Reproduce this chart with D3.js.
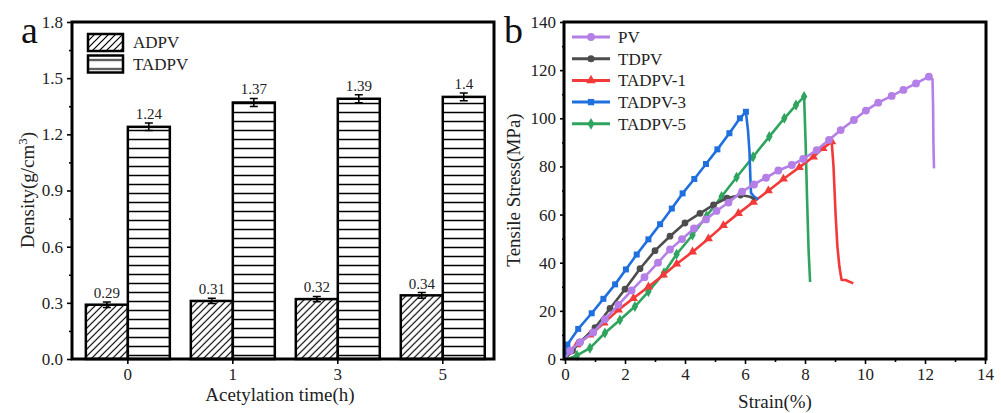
<!DOCTYPE html>
<html>
<head>
<meta charset="utf-8">
<script src="https://cdn.jsdelivr.net/npm/d3@7"></script>
<style>
  body { margin: 0; background: #fff; }
  svg { display: block; font-family: "Liberation Serif", "Times New Roman", serif; }
</style>
</head>
<body>
<div class="grafico"></div>
<script>
// Datos del panel a (densidad)
var categorias = ["0", "1", "3", "5"];
var densidadADPV = [0.29, 0.31, 0.32, 0.34];
var densidadTADPV = [1.24, 1.37, 1.39, 1.40];
var errorADPV = [0.015, 0.014, 0.014, 0.015];
var errorTADPV = [0.02, 0.022, 0.021, 0.021];
var etiquetasADPV = ["0.29", "0.31", "0.32", "0.34"];
var etiquetasTADPV = ["1.24", "1.37", "1.39", "1.4"];
var ticksDensidad = [0, 0.3, 0.6, 0.9, 1.2, 1.5, 1.8];

// Datos del panel b (esfuerzo-deformacion), [strain %, stress MPa]
var curvaPV = [[0, 0], [0.17, 3.5], [0.5, 7], [0.94, 11], [1.33, 16.5], [1.78, 22.5], [2.22, 28.5], [2.65, 34],
  [3.1, 40], [3.5, 45.5], [3.9, 49.8], [4.3, 54.2], [4.7, 58], [5.05, 61.5], [5.45, 65], [5.9, 69.5],
  [6.3, 72.5], [6.7, 75.3], [7.11, 78.3], [7.56, 80.6], [7.94, 83.1], [8.39, 86.8], [8.8, 91], [9.19, 95.1],
  [9.63, 99.3], [10.03, 103.2], [10.44, 106.5], [10.89, 109.3], [11.28, 111.8], [11.7, 114.5], [12.13, 117.3],
  [12.25, 116.3], [12.27, 105], [12.28, 90], [12.3, 79.2]];
var curvaTDPV = [[0, 0], [0.25, 3.5], [0.5, 7], [1, 13], [1.5, 21], [2, 29], [2.5, 37.5], [3, 45], [3.5, 51],
  [4, 56.5], [4.5, 60.5], [4.95, 64], [5.4, 66.8], [5.85, 68.1], [6.17, 67.4], [6.33, 66.3]];
var curvaTADPV1 = [[0, 0], [0.1, 3], [0.4, 6], [0.83, 10], [1.3, 15], [1.78, 20.4], [2.28, 25.2], [2.78, 30],
  [3.28, 34.9], [3.72, 39.5], [4.25, 44.5], [4.78, 50], [5.28, 55.5], [5.78, 60.5], [6.28, 65.2], [6.78, 69.9],
  [7.28, 74.8], [7.81, 79.6], [8.28, 84], [8.6, 87.5], [8.89, 90.3], [8.95, 80], [9.02, 60], [9.08, 46.7],
  [9.15, 38], [9.22, 32.8], [9.35, 32.8], [9.61, 31.4]];
var curvaTADPV3 = [[0, 0], [0.03, 3], [0.08, 6], [0.44, 12.5], [0.89, 19], [1.28, 25], [1.67, 31], [2.03, 37.2],
  [2.39, 43.4], [2.78, 49.7], [3.17, 56], [3.56, 62.5], [3.92, 68.8], [4.31, 74.8], [4.7, 81], [5.08, 87.1],
  [5.48, 93.8], [5.83, 100], [6.03, 102.7], [6.1, 95], [6.15, 86], [6.18, 75], [6.2, 69], [6.3, 67.5], [6.44, 66.3]];
var curvaTADPV5 = [[0.1, 0], [0.4, 1.5], [0.83, 4.5], [1.33, 10.8], [1.83, 16.2], [2.33, 21.8], [2.78, 28],
  [3.3, 35.8], [3.72, 43.5], [4.25, 51.5], [4.72, 59.4], [5.22, 67.5], [5.72, 75.5], [6.27, 84], [6.81, 92.4],
  [7.31, 100], [7.7, 105.5], [7.97, 109], [8.02, 90], [8.07, 66], [8.12, 45], [8.17, 32]];
var nombresCurvas = ["PV", "TDPV", "TADPV-1", "TADPV-3", "TADPV-5"];
var ticksStrain = [0, 2, 4, 6, 8, 10, 12, 14];
var ticksStress = [0, 20, 40, 60, 80, 100, 120, 140];

var curvas = [curvaPV, curvaTDPV, curvaTADPV1, curvaTADPV3, curvaTADPV5];
var colores = ["#b47fe6", "#4d4d4d", "#f23a3a", "#1f6fdf", "#2fa45e"];
var simbolos = [d3.symbolCircle, d3.symbolCircle, d3.symbolTriangle, d3.symbolSquare, d3.symbolDiamond];

var svg = d3.select(".grafico").append("svg")
    .attr("width", 1001)
    .attr("height", 413);

// Patrones de relleno (rayado)
var defs = svg.append("defs");
var diag = defs.append("pattern")
    .attr("id", "rayasDiag")
    .attr("patternUnits", "userSpaceOnUse")
    .attr("width", 7).attr("height", 7);
diag.append("rect").attr("width", 7).attr("height", 7).attr("fill", "white");
diag.append("path")
    .attr("d", "M-1,8L8,-1M-2,2L2,-2M5,9L9,5")
    .attr("stroke", "black").attr("stroke-width", 1.2);
var horiz = defs.append("pattern")
    .attr("id", "rayasHoriz")
    .attr("patternUnits", "userSpaceOnUse")
    .attr("width", 9).attr("height", 9);
horiz.append("rect").attr("width", 9).attr("height", 9).attr("fill", "white");
horiz.append("line")
    .attr("x1", 0).attr("x2", 9).attr("y1", 4.5).attr("y2", 4.5)
    .attr("stroke", "black").attr("stroke-width", 1.5);

// ---------- Panel a ----------
var ax0 = 72, ax1 = 494, ay0 = 359, ay1 = 22;
var xa = d3.scaleBand().domain(categorias).range([ax0, ax1])
    .paddingInner(0.2).paddingOuter(0.11).align(0.6);
var xaSub = d3.scaleBand().domain([0, 1]).range([0, xa.bandwidth()]);
var ya = d3.scaleLinear().domain([0, 1.8]).range([ay0, ay1]);

var grupos = svg.selectAll("g.grupo")
    .data(categorias)
    .enter().append("g")
    .attr("class", "grupo")
    .attr("transform", function(d) { return "translate(" + xa(d) + ",0)"; });

var series = [
  { valores: densidadADPV, errores: errorADPV, etiquetas: etiquetasADPV, relleno: "url(#rayasDiag)" },
  { valores: densidadTADPV, errores: errorTADPV, etiquetas: etiquetasTADPV, relleno: "url(#rayasHoriz)" }
];

series.forEach(function(s, k) {
    grupos.append("rect")
        .attr("x", xaSub(k))
        .attr("width", xaSub.bandwidth())
        .attr("y", function(d, i) { return ya(s.valores[i]); })
        .attr("height", function(d, i) { return ya(0) - ya(s.valores[i]); })
        .attr("fill", s.relleno)
        .attr("stroke", "black")
        .attr("stroke-width", 2.5);

    // Barras de error
    var cx = xaSub(k) + xaSub.bandwidth() / 2;
    grupos.append("path")
        .attr("d", function(d, i) {
            var t = ya(s.valores[i] + s.errores[i]), b = ya(s.valores[i] - s.errores[i]);
            return "M" + cx + "," + t + "V" + b +
                "M" + (cx - 4) + "," + t + "H" + (cx + 4) +
                "M" + (cx - 4) + "," + b + "H" + (cx + 4);
        })
        .attr("stroke", "black")
        .attr("stroke-width", 1.5)
        .attr("fill", "none");

    // Etiquetas de valor
    grupos.append("text")
        .attr("x", cx)
        .attr("y", function(d, i) { return ya(s.valores[i] + s.errores[i]) - 4; })
        .attr("text-anchor", "middle")
        .attr("font-size", 15)
        .attr("fill", "#222")
        .text(function(d, i) { return s.etiquetas[i]; });
});

// Ejes panel a
var ejeYa = svg.append("g")
    .attr("transform", "translate(" + ax0 + ",0)")
    .call(d3.axisLeft(ya).tickValues(ticksDensidad).tickFormat(d3.format(".1f")).tickSize(5).tickPadding(4));
var ejeYaMenor = svg.append("g")
    .attr("transform", "translate(" + ax0 + ",0)")
    .call(d3.axisLeft(ya).tickValues(ticksDensidad.slice(1).map(function(v) { return v - 0.15; }))
        .tickFormat("").tickSize(3));
var ejeXa = svg.append("g")
    .attr("transform", "translate(0," + ay0 + ")")
    .call(d3.axisBottom(xa).tickSize(5).tickPadding(4));

// ---------- Panel b ----------
var bx0 = 565, bx1 = 985, by0 = 359, by1 = 22;
var xb = d3.scaleLinear().domain([0, 14]).range([bx0, bx1]);
var yb = d3.scaleLinear().domain([0, 140]).range([by0, by1]);

var linea = d3.line()
    .x(function(d) { return xb(d[0]); })
    .y(function(d) { return yb(d[1]); });

var ordenDibujo = [4, 2, 3, 1, 0];
ordenDibujo.forEach(function(k) {
    var datos = curvas[k];
    svg.append("path")
        .datum(datos)
        .attr("d", linea)
        .attr("fill", "none")
        .attr("stroke", colores[k])
        .attr("stroke-width", 2.6)
        .attr("stroke-linejoin", "round");
    // simbolos solo en la parte ascendente
    var iMax = d3.maxIndex(datos, function(d) { return d[1]; });
    svg.selectAll(null)
        .data(datos.slice(1, iMax + 1))
        .enter().append("path")
        .attr("transform", function(d) { return "translate(" + xb(d[0]) + "," + yb(d[1]) + ")"; })
        .attr("d", d3.symbol().type(simbolos[k]).size(k === 0 ? 48 : 36))
        .attr("fill", colores[k]);
});

var ejeXb = svg.append("g")
    .attr("transform", "translate(0," + by0 + ")")
    .call(d3.axisBottom(xb).tickValues(ticksStrain).tickSize(5).tickPadding(4));
var ejeXbMenor = svg.append("g")
    .attr("transform", "translate(0," + by0 + ")")
    .call(d3.axisBottom(xb).tickValues(ticksStrain.slice(1).map(function(v) { return v - 1; }))
        .tickFormat("").tickSize(3));
var ejeYb = svg.append("g")
    .attr("transform", "translate(" + bx0 + ",0)")
    .call(d3.axisLeft(yb).tickValues(ticksStress).tickSize(5).tickPadding(4));
var ejeYbMenor = svg.append("g")
    .attr("transform", "translate(" + bx0 + ",0)")
    .call(d3.axisLeft(yb).tickValues(ticksStress.slice(1).map(function(v) { return v - 10; }))
        .tickFormat("").tickSize(3));

// Estilo comun de ejes
svg.selectAll(".domain").remove();
svg.selectAll(".tick line").attr("stroke", "black").attr("stroke-width", 1.6);
svg.selectAll(".tick text").attr("font-size", 17).attr("fill", "#222")
    .attr("font-family", "Liberation Serif, Times New Roman, serif");

// Marcos
svg.append("rect")
    .attr("x", ax0).attr("y", ay1)
    .attr("width", ax1 - ax0).attr("height", ay0 - ay1)
    .attr("fill", "none").attr("stroke", "black").attr("stroke-width", 3);
svg.append("rect")
    .attr("x", bx0 - 1).attr("y", by1)
    .attr("width", bx1 - bx0 + 2).attr("height", by0 - by1)
    .attr("fill", "none").attr("stroke", "black").attr("stroke-width", 3);

// Titulos de ejes
svg.append("text")
    .attr("x", 280).attr("y", 401)
    .attr("text-anchor", "middle").attr("font-size", 19).attr("fill", "#222")
    .text("Acetylation time(h)");
var tituloYa = svg.append("text")
    .attr("transform", "translate(34,190) rotate(-90)")
    .attr("text-anchor", "middle").attr("font-size", 19).attr("fill", "#222");
tituloYa.append("tspan").text("Density(g/cm");
tituloYa.append("tspan").attr("font-size", 13).attr("dy", -7).text("3");
tituloYa.append("tspan").attr("dy", 7).text(")");

svg.append("text")
    .attr("x", 775).attr("y", 408)
    .attr("text-anchor", "middle").attr("font-size", 19).attr("fill", "#222")
    .text("Strain(%)");
svg.append("text")
    .attr("transform", "translate(520,190) rotate(-90)")
    .attr("text-anchor", "middle").attr("font-size", 19).attr("fill", "#222")
    .text("Tensile Stress(MPa)");

// Letras de panel
svg.append("text").attr("x", 21).attr("y", 43).attr("font-size", 38).attr("fill", "#111").text("a");
svg.append("text").attr("x", 504).attr("y", 43).attr("font-size", 38).attr("fill", "#111").text("b");

// Leyenda panel a
var leyendaA = svg.selectAll("g.leyendaA")
    .data(["ADPV", "TADPV"])
    .enter().append("g")
    .attr("class", "leyendaA")
    .attr("transform", function(d, i) { return "translate(88," + (34 + i * 21.5) + ")"; });
leyendaA.append("rect")
    .attr("width", 35).attr("height", 17)
    .attr("fill", function(d, i) { return series[i].relleno; })
    .attr("stroke", "black").attr("stroke-width", 2.5);
leyendaA.append("text")
    .attr("x", 45).attr("y", 14)
    .attr("font-size", 17).attr("fill", "#222")
    .text(function(d) { return d; });

// Leyenda panel b
var leyendaB = svg.selectAll("g.leyendaB")
    .data(nombresCurvas)
    .enter().append("g")
    .attr("class", "leyendaB")
    .attr("transform", function(d, i) { return "translate(572," + (37 + i * 21.7) + ")"; });
leyendaB.append("line")
    .attr("x1", 0).attr("x2", 38)
    .attr("stroke", function(d, i) { return colores[i]; })
    .attr("stroke-width", 3);
leyendaB.append("path")
    .attr("transform", "translate(19,0)")
    .attr("d", function(d, i) { return d3.symbol().type(simbolos[i]).size(i === 0 ? 48 : 40)(); })
    .attr("fill", function(d, i) { return colores[i]; });
leyendaB.append("text")
    .attr("x", 46).attr("y", 6)
    .attr("font-size", 17).attr("fill", "#222")
    .text(function(d) { return d; });
</script>
</body>
</html>
